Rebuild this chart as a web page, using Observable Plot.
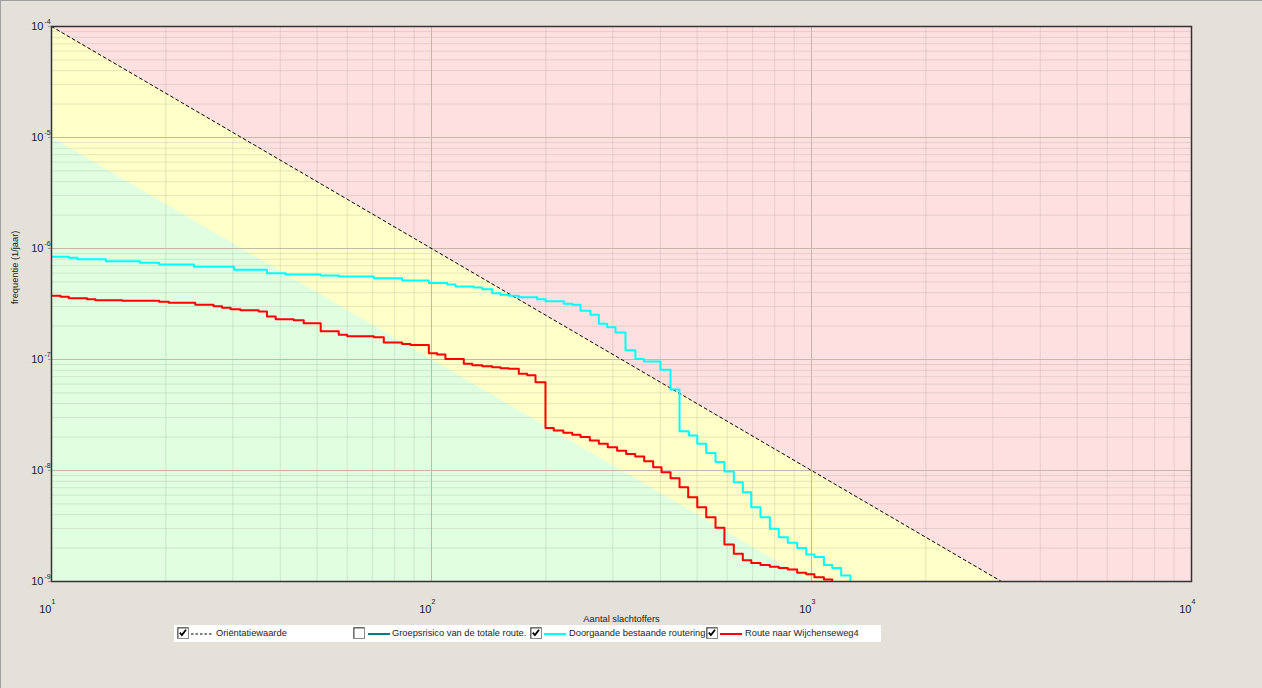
<!DOCTYPE html>
<html><head><meta charset="utf-8">
<script src="https://cdn.jsdelivr.net/npm/d3@7"></script>
<script src="https://cdn.jsdelivr.net/npm/@observablehq/plot@0.6"></script>
<style>
html,body{margin:0;padding:0;background:#e4e1db;width:1262px;height:688px;overflow:hidden;font-family:"Liberation Sans",Arial,sans-serif;}
#wrap{position:relative;width:1262px;height:688px;}
#chart svg{display:block;}
#border{position:absolute;left:0;top:0;width:1262px;height:688px;border-top:1px solid #a0a0a0;border-left:1px solid #a0a0a0;box-sizing:border-box;pointer-events:none;}
#legend{position:absolute;left:174px;top:625px;width:707px;height:17px;background:#fff;font-size:9.3px;color:#222;}
#legend .el{position:absolute;line-height:0;}
#legend .el svg{display:block;}
#legend .tx{position:absolute;top:0;line-height:17px;white-space:nowrap;}
</style></head>
<body><div id="wrap"><div id="chart"></div><div id="legend"></div><div id="border"></div></div>
<script>
// ---- data ----
const xTicks = [10, 100, 1000, 10000];
const xExponents = ["1", "2", "3", "4"];
const yTicks = [1e-9, 1e-8, 1e-7, 1e-6, 1e-5, 1e-4];
const yExponents = ["-9", "-8", "-7", "-6", "-5", "-4"];
const xMinor = [20,30,40,50,60,70,80,90,200,300,400,500,600,700,800,900,2000,3000,4000,5000,6000,7000,8000,9000];
const yMinor = [2e-9,3e-9,4e-9,5e-9,6e-9,7e-9,8e-9,9e-9,2e-8,3e-8,4e-8,5e-8,6e-8,7e-8,8e-8,9e-8,
  2e-7,3e-7,4e-7,5e-7,6e-7,7e-7,8e-7,9e-7,2e-6,3e-6,4e-6,5e-6,6e-6,7e-6,8e-6,9e-6,
  2e-5,3e-5,4e-5,5e-5,6e-5,7e-5,8e-5,9e-5];
const xMajor = [100, 1000];
const yMajor = [1e-8, 1e-7, 1e-6, 1e-5];

// Oriëntatiewaarde and lower (green) limit, straight lines in log-log
const zoneN = [10, 10000];
const orientatieF = [1e-4, 1e-10];
const lowerLimitF = [1e-5, 1e-11];

// Doorgaande bestaande routering (cyan)
const cyanN = [10, 11.1, 11.7, 13.9, 17.1, 19.2, 23.7, 30.2, 36.9, 41.3, 51.1, 57.0, 70.5, 83.7, 98.4, 110, 115.7, 129.2, 136, 144.5, 151.9, 159.7, 169.7, 189.7, 199.5, 222.9, 234.6, 246.7, 262, 275.6, 290, 305, 324, 344, 362, 400.5, 425.6, 449.5, 475.5, 500.5, 528.4, 559, 590, 624.5, 659.5, 694, 734, 777, 820, 866, 917, 968.5, 1018, 1078, 1134, 1197, 1266];
const cyanF = [8.42e-7, 8.25e-7, 8.01e-7, 7.69e-7, 7.43e-7, 7.18e-7, 6.84e-7, 6.43e-7, 5.99e-7, 5.83e-7, 5.71e-7, 5.59e-7, 5.40e-7, 5.15e-7, 4.89e-7, 4.74e-7, 4.55e-7, 4.45e-7, 4.30e-7, 3.96e-7, 3.83e-7, 3.75e-7, 3.64e-7, 3.49e-7, 3.35e-7, 3.18e-7, 3.11e-7, 2.75e-7, 2.53e-7, 2.10e-7, 1.95e-7, 1.75e-7, 1.21e-7, 1.01e-7, 9.59e-8, 8.08e-8, 5.37e-8, 2.26e-8, 2.07e-8, 1.74e-8, 1.44e-8, 1.19e-8, 9.79e-9, 7.85e-9, 6.37e-9, 4.67e-9, 3.80e-9, 2.98e-9, 2.51e-9, 2.23e-9, 2.00e-9, 1.75e-9, 1.66e-9, 1.41e-9, 1.32e-9, 1.13e-9, 1.0e-9];

// Route naar Wijchenseweg4 (red)
const redN = [10, 10.56, 11.1, 12.4, 13.05, 15.35, 19.2, 20.35, 23.9, 26.7, 28.1, 29.6, 31.4, 35.1, 36.9, 38.9, 43.4, 46.1, 51.1, 57.0, 60.0, 70.5, 74.9, 83.7, 88.0, 98.4, 103.5, 108.8, 121.6, 128, 136, 144.5, 151.9, 159.7, 169.7, 178.6, 187.8, 199.5, 209.8, 222.2, 234.6, 246.7, 261, 275.6, 291, 308, 325.4, 343.6, 362.9, 383.1, 403, 425.6, 449.5, 473.7, 500.5, 528.4, 559, 590, 624.5, 659.5, 694, 734, 777, 820, 866, 917, 968.5, 1018, 1078, 1134];
const redF = [3.75e-7, 3.67e-7, 3.57e-7, 3.49e-7, 3.42e-7, 3.38e-7, 3.31e-7, 3.24e-7, 3.11e-7, 3.02e-7, 2.92e-7, 2.84e-7, 2.78e-7, 2.71e-7, 2.44e-7, 2.31e-7, 2.26e-7, 2.12e-7, 1.80e-7, 1.67e-7, 1.62e-7, 1.59e-7, 1.42e-7, 1.38e-7, 1.35e-7, 1.14e-7, 1.11e-7, 1.01e-7, 9.15e-8, 8.88e-8, 8.70e-8, 8.52e-8, 8.35e-8, 8.25e-8, 7.43e-8, 7.22e-8, 6.24e-8, 2.42e-8, 2.29e-8, 2.19e-8, 2.10e-8, 2.00e-8, 1.86e-8, 1.74e-8, 1.62e-8, 1.51e-8, 1.41e-8, 1.34e-8, 1.21e-8, 1.07e-8, 9.65e-9, 8.52e-9, 7.07e-9, 5.75e-9, 4.67e-9, 3.80e-9, 3.05e-9, 2.15e-9, 1.78e-9, 1.55e-9, 1.47e-9, 1.41e-9, 1.36e-9, 1.32e-9, 1.28e-9, 1.20e-9, 1.16e-9, 1.09e-9, 1.04e-9, 1.02e-9];

const xLabel = "Aantal slachtoffers";
const yLabel = "frequentie (1/jaar)";
const legendItems = [
  {label: "Oriëntatiewaarde", color: "#000", dashed: true, checked: true},
  {label: "Groepsrisico van de totale route.", color: "#008080", dashed: false, checked: false},
  {label: "Doorgaande bestaande routering", color: "#00ffff", dashed: false, checked: true},
  {label: "Route naar Wijchenseweg4", color: "#ff0000", dashed: false, checked: true}
];

// ---- chart ----
const zoneIdx = d3.range(zoneN.length);
const cyanIdx = d3.range(cyanN.length);
const redIdx = d3.range(redN.length);
const font = '"Liberation Sans", Arial, sans-serif';

const chart = Plot.plot({
  width: 1262, height: 625,
  marginLeft: 51, marginRight: 71, marginTop: 26, marginBottom: 44,
  x: {type: "log", domain: [10, 10000]},
  y: {type: "log", domain: [1e-9, 1e-4]},
  style: {background: "transparent", fontFamily: font, color: "#222"},
  marks: [
    Plot.frame({fill: "#e0ffe0", stroke: null}),
    Plot.areaY(zoneIdx, {x: i => zoneN[i], y1: i => lowerLimitF[i], y2: i => orientatieF[i], fill: "#ffffc8", clip: true}),
    Plot.areaY(zoneIdx, {x: i => zoneN[i], y1: i => orientatieF[i], y2: () => 1e-4, fill: "#ffe0e0", clip: true}),
    Plot.ruleX(xMinor, {stroke: "#808080", strokeOpacity: 0.2}),
    Plot.ruleY(yMinor, {stroke: "#808080", strokeOpacity: 0.2}),
    Plot.ruleX(xMajor, {stroke: "#c4b8a6"}),
    Plot.ruleY(yMajor, {stroke: "#c4b8a6"}),
    Plot.line(zoneIdx, {x: i => zoneN[i], y: i => orientatieF[i], stroke: "#000", strokeWidth: 1, strokeDasharray: "3,3", clip: true}),
    Plot.line(cyanIdx, {x: i => cyanN[i], y: i => cyanF[i], curve: "step-after", stroke: "#00ffff", strokeWidth: 2, clip: true}),
    Plot.line(redIdx, {x: i => redN[i], y: i => redF[i], curve: "step-after", stroke: "#ff0000", strokeWidth: 2, clip: true}),
    Plot.frame({stroke: "#333", strokeWidth: 1.5}),
    Plot.axisY(yTicks, {tickFormat: () => "10", tickSize: 3, tickPadding: 5, fontSize: 11, stroke: "#999", fill: "#222"}),
    Plot.text(yTicks, {y: d => d, text: (d, i) => yExponents[i], frameAnchor: "left", dx: -7, dy: -5, textAnchor: "start", fontSize: 7, fill: "#222"}),
    Plot.axisX(xTicks, {tickFormat: () => "10", tickSize: 0, tickPadding: 24, textAnchor: "end", fontSize: 11, fill: "#222"}),
    Plot.text(xTicks, {x: d => d, text: (d, i) => xExponents[i], frameAnchor: "bottom", dy: 22, textAnchor: "start", fontSize: 7, fill: "#222"}),
    Plot.text([xLabel], {text: d => d, frameAnchor: "bottom", dy: 40, fontSize: 9.3, fill: "#222"}),
    Plot.text([yLabel], {text: d => d, frameAnchor: "left", dx: -36, rotate: -90, fontSize: 9.3, fill: "#222"})
  ]
});
document.getElementById("chart").appendChild(chart);

// ---- legend ----
const legend = document.getElementById("legend");
const pos = [{cb: 3, ln: 17, tx: 42}, {cb: 179, ln: 194, tx: 218}, {cb: 356, ln: 370, tx: 395}, {cb: 532, ln: 546, tx: 571}];
legendItems.forEach((it, k) => {
  const p = pos[k];
  const cb = document.createElement("div");
  cb.className = "el";
  cb.style.left = p.cb + "px"; cb.style.top = "2px";
  cb.innerHTML = '<svg width="12" height="12"><rect x="0.5" y="0.5" width="11" height="11" fill="#fff" stroke="#8a8a8a"/>' +
    '<path d="M1 11 V1 H11" stroke="#555" fill="none"/>' +
    (it.checked ? '<path d="M2.8 5.6 L4.9 8 L9 2.8" stroke="#000" stroke-width="1.8" fill="none"/>' : '') + '</svg>';
  legend.appendChild(cb);
  const ln = document.createElement("div");
  ln.className = "el";
  ln.style.left = p.ln + "px"; ln.style.top = "7px";
  ln.innerHTML = '<svg width="22" height="4"><line x1="0" y1="2" x2="22" y2="2" stroke="' + it.color + '" stroke-width="' + (it.dashed ? 1 : 2) + '"' + (it.dashed ? ' stroke-dasharray="2.5,2"' : '') + '/></svg>';
  legend.appendChild(ln);
  const tx = document.createElement("div");
  tx.className = "tx";
  tx.style.left = p.tx + "px";
  tx.textContent = it.label;
  legend.appendChild(tx);
});
</script>
</body></html>
